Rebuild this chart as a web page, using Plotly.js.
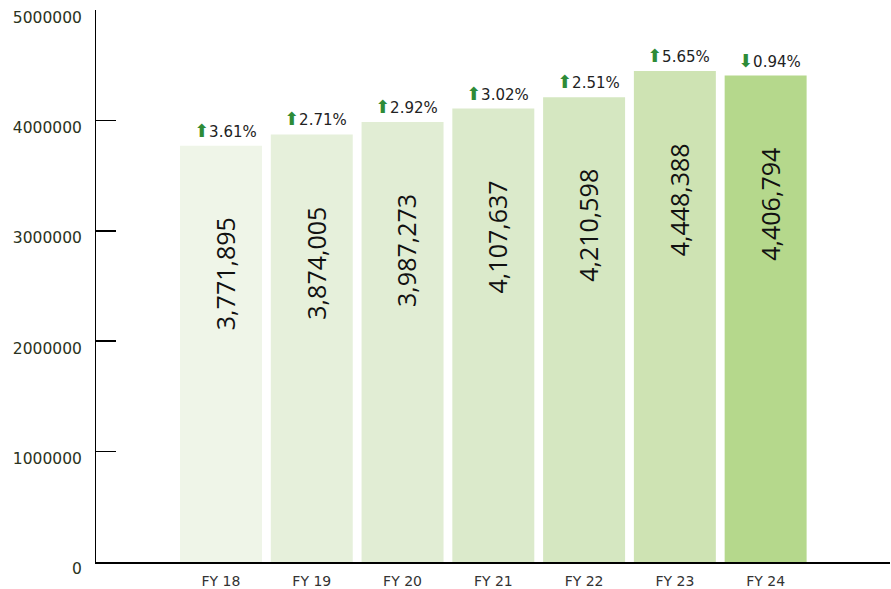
<!DOCTYPE html>
<html>
<head>
<meta charset="utf-8">
<script src="https://cdn.plot.ly/plotly-3.0.1.min.js"></script>
<style>html,body{margin:0;padding:0;background:#fff;}#chart{width:891px;height:589px;}</style>
</head>
<body>
<div id="chart"></div>
<script>
const categories = ["FY 18", "FY 19", "FY 20", "FY 21", "FY 22", "FY 23", "FY 24"];
const values = [3771895, 3874005, 3987273, 4107637, 4210598, 4448388, 4406794];
const changePct = ["3.61%", "2.71%", "2.92%", "3.02%", "2.51%", "5.65%", "0.94%"];
const changeDir = ["up", "up", "up", "up", "up", "up", "down"];
const barColors = ["#eff5e8", "#e6f0db", "#e1edd4", "#dbeacb", "#d5e7c1", "#cee3b3", "#b5d88c"];
const yTicks = [0, 1000000, 2000000, 3000000, 4000000, 5000000];

const fmt = v => v.toLocaleString("en-US");

const trace = {
  type: "bar",
  x: categories,
  y: values,
  marker: {color: barColors, line: {width: 0}},
  hoverinfo: "none"
};

const annotations = [];
categories.forEach((c, i) => {
  annotations.push({
    x: c, y: values[i], xref: "x", yref: "y",
    text: fmt(values[i]),
    textangle: -90,
    showarrow: false,
    xanchor: "center", yanchor: "top",
    yshift: -70, xshift: 4,
    font: {family: "Open Sans, sans-serif", size: 25, color: "#111"}
  });
  const arrow = changeDir[i] === "up" ? "⬆" : "⬇";
  annotations.push({
    x: c, y: values[i], xref: "x", yref: "y",
    text: '<span style="color:#2e8b37;font-size:18px">' + arrow + '</span>' + changePct[i],
    showarrow: false,
    xanchor: "center", yanchor: "bottom",
    yshift: 3, xshift: 4,
    font: {family: "DejaVu Sans, sans-serif", size: 15, color: "#222"}
  });
});

const layout = {
  width: 891, height: 589,
  margin: {l: 96, r: 1, t: 10, b: 27, pad: 0},
  paper_bgcolor: "#fff", plot_bgcolor: "#fff",
  showlegend: false,
  bargap: 0.097,
  font: {family: "DejaVu Sans, sans-serif", color: "#333"},
  xaxis: {
    type: "category",
    range: [-1.377, 7.37],
    showline: true, linecolor: "#000", linewidth: 2,
    ticks: "", showgrid: false, zeroline: false,
    tickfont: {family: "DejaVu Sans, sans-serif", size: 14, color: "#333"},
    ticklabelstandoff: 5
  },
  yaxis: {
    range: [0, 5001000],
    tickvals: yTicks,
    ticktext: yTicks.map(v => String(v)),
    showline: true, linecolor: "#000", linewidth: 1,
    ticks: "inside", ticklen: 20, tickwidth: 1.5, tickcolor: "#000",
    showgrid: false, zeroline: false,
    tickfont: {family: "DejaVu Sans, sans-serif", size: 15.5, color: "#2b3320"},
    ticklabelstandoff: 10,
    ticklabelshift: 7
  },
  annotations: annotations
};

Plotly.newPlot("chart", [trace], layout, {displayModeBar: false, staticPlot: true});
</script>
</body>
</html>
